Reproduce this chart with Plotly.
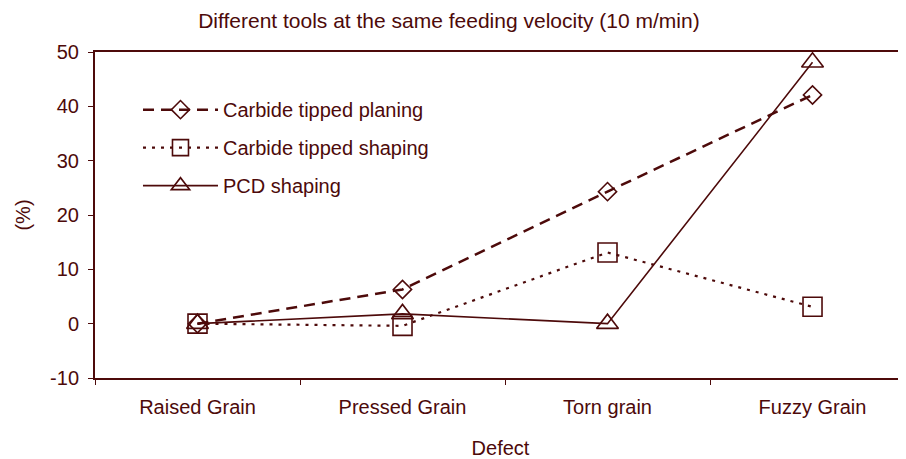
import plotly.graph_objects as go

categories = ["Raised Grain", "Pressed Grain", "Torn grain", "Fuzzy Grain"]
planing = [0, 6.3, 24.3, 42.1]
shaping = [0, -0.4, 13.1, 3.1]
pcd = [0, 1.8, 0, 48.1]
y_ticks = [-10, 0, 10, 20, 30, 40, 50]
y_tick_labels = ["-10", "0", "10", "20", "30", "40", "50"]

C = "#4d0a0a"
FONT = "Arial, Liberation Sans, sans-serif"
FS = 20

fig = go.Figure()
fig.add_trace(go.Scatter(
    x=categories, y=planing, name="Carbide tipped planing", legendgroup="a",
    mode="lines+markers",
    line=dict(color=C, width=2.5, dash="11px,7px"),
    marker=dict(symbol="diamond-open", size=14, color=C, line=dict(width=1.6, color=C)),
))
fig.add_trace(go.Scatter(
    x=categories, y=shaping, name="Carbide tipped shaping", legendgroup="b",
    mode="lines+markers",
    line=dict(color=C, width=2.2, dash="3px,6px"),
    marker=dict(symbol="square-open", size=19, color=C, line=dict(width=1.6, color=C)),
))
fig.add_trace(go.Scatter(
    x=categories, y=pcd, name="PCD shaping", legendgroup="c",
    mode="lines+markers",
    line=dict(color=C, width=1.6),
    marker=dict(symbol="triangle-up-open", size=19, color=C, line=dict(width=1.6, color=C)),
))

fig.update_layout(
    width=898, height=451,
    margin=dict(l=87, r=0, t=44, b=81),
    paper_bgcolor="white", plot_bgcolor="white",
    font=dict(family=FONT, color=C, size=FS),
    title=dict(text="Different tools at the same feeding velocity (10 m/min)",
               x=0.491, xanchor="center", xref="container",
               y=0.973, yanchor="middle", yref="container",
               font=dict(size=21, color=C, family=FONT)),
    legend=dict(x=0.053, y=0.883, xanchor="left", yanchor="top",
                bgcolor="rgba(0,0,0,0)", itemwidth=75, tracegroupgap=9,
                font=dict(size=FS, color=C, family=FONT)),
    showlegend=True,
)
fig.update_xaxes(
    range=[-0.5, 3.456], showgrid=False, zeroline=False, automargin=False,
    showline=True, linecolor=C, linewidth=2, mirror=True,
    ticks="outside", tickson="boundaries", ticklen=5, tickcolor=C, tickwidth=1,
    ticklabelstandoff=10,
    tickfont=dict(size=FS, color=C),
    title=dict(text="Defect", font=dict(size=FS, color=C), standoff=24),
)
fig.update_yaxes(
    range=[-10, 50], tickvals=y_ticks, ticktext=y_tick_labels,
    showgrid=False, zeroline=False, automargin=False,
    showline=True, linecolor=C, linewidth=2,
    ticks="outside", ticklen=5, tickcolor=C, tickwidth=1,
    ticklabelstandoff=5,
    tickfont=dict(size=FS, color=C),
    title=dict(text="(%)", font=dict(size=FS, color=C), standoff=14),
)

fig.write_html("out.html")
